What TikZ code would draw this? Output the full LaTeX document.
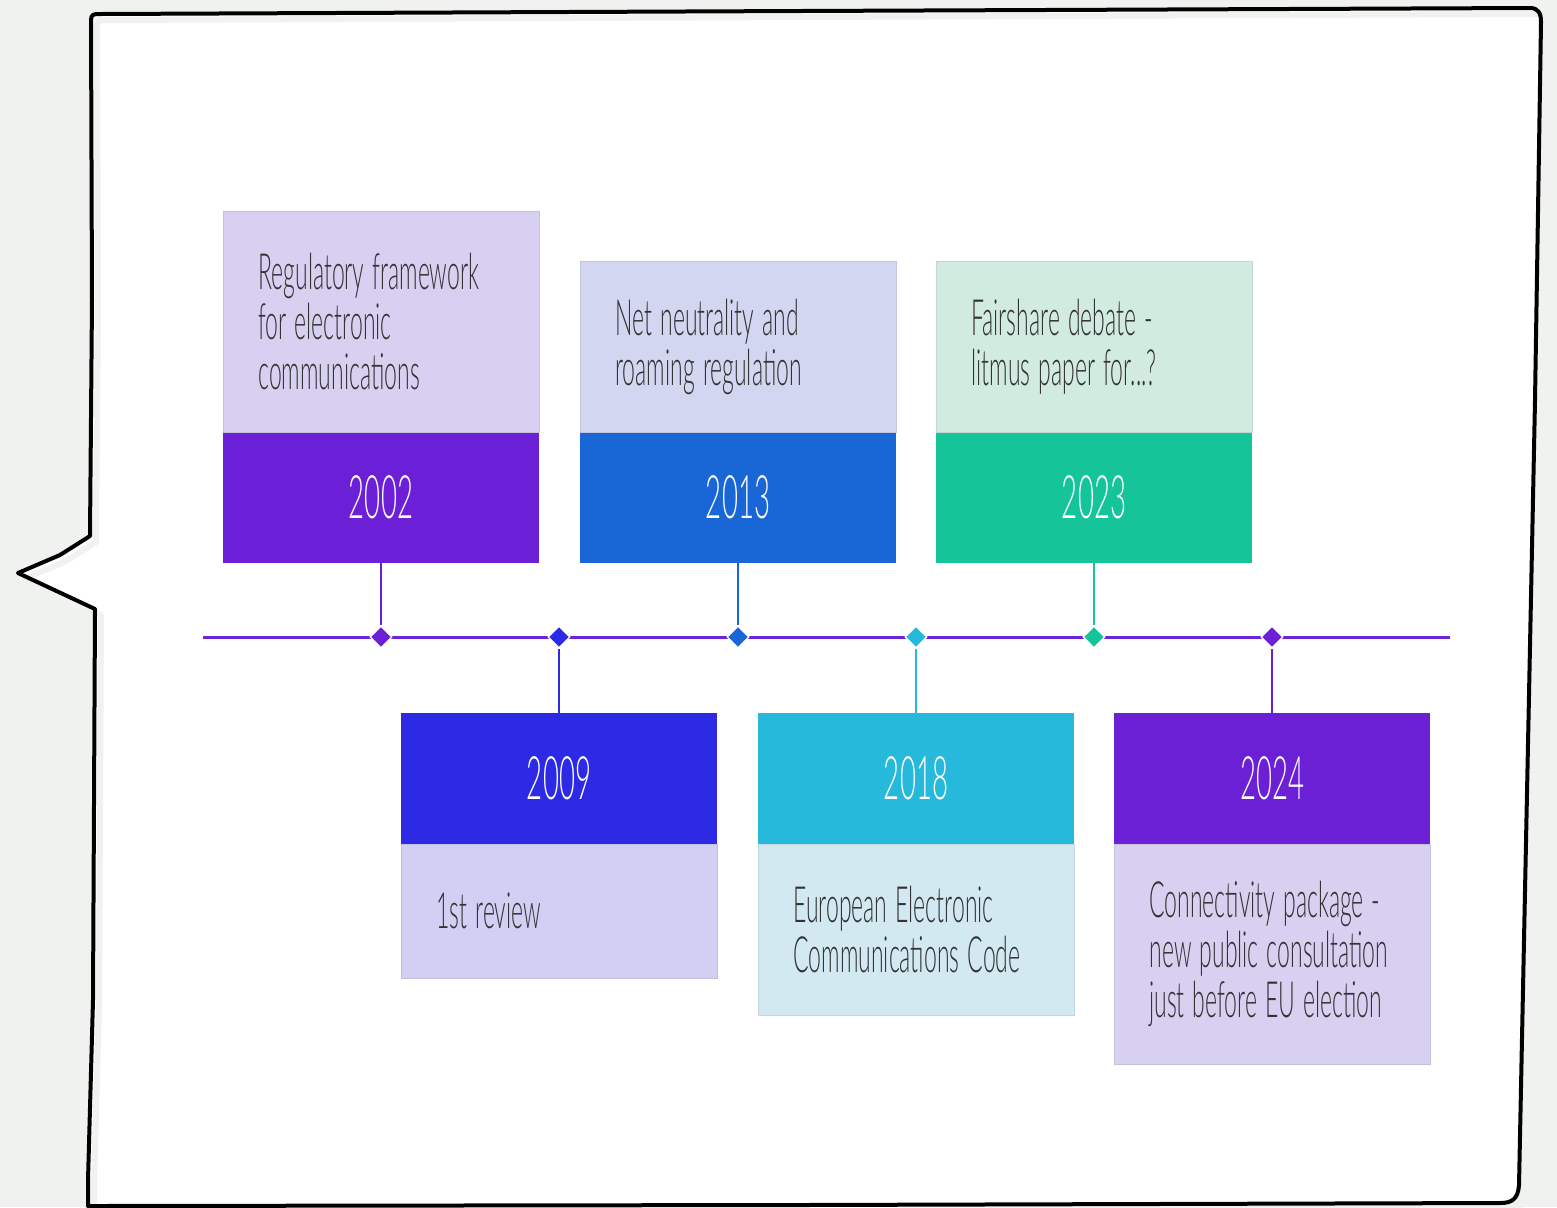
\documentclass[tikz,border=0pt]{standalone}
\usepackage{fontspec}
\setmainfont{Lato Light}[FakeStretch=0.46, WordSpace=1.3]
\newfontfamily\yearfont{Lato Light}[FakeStretch=0.46]
\usepackage{xcolor}
\usetikzlibrary{positioning, shapes.geometric}

\definecolor{paper}{HTML}{F0F2EF}
\definecolor{lineviolet}{HTML}{6D24D8}
\definecolor{c2002}{HTML}{6B1FD6}
\definecolor{c2009}{HTML}{2D2AE6}
\definecolor{c2013}{HTML}{1966D6}
\definecolor{c2018}{HTML}{27B9DB}
\definecolor{c2023}{HTML}{16C49A}
\definecolor{c2024}{HTML}{6C20D6}
\definecolor{l2002}{HTML}{D8D0F1}
\definecolor{l2009}{HTML}{D1D0F4}
\definecolor{l2013}{HTML}{D2D6F0}
\definecolor{l2018}{HTML}{D2E9F2}
\definecolor{l2023}{HTML}{D1EBE0}
\definecolor{l2024}{HTML}{D8D0F1}

\tikzset{
    yearbox/.style={rectangle, fill=#1, text=white, minimum width=158pt, minimum height=65.5pt, inner sep=0pt, outer sep=0pt, font=\yearfont\fontsize{30}{32}\selectfont},
    notebox/.style={rectangle, fill=#1, draw=#1!92!black, line width=0.4pt, minimum width=158pt, inner sep=0pt, outer sep=0pt},
    notetext/.style={anchor=west, inner sep=0pt, align=left, text=black!80, font=\fontsize{25}{25}\selectfont},
    pin/.style={diamond, aspect=1, fill=#1, draw=white, line width=0.6pt, minimum size=11pt, inner sep=0pt},
    stemline/.style={draw=#1, line width=0.8pt},
    timeline/.style={draw=lineviolet, line width=1.5pt},
    bubble/.style={draw=black, line width=2pt, line join=round, line cap=round},
    bubbleshade/.style={draw=paper, line width=3pt, line join=round}
}

\begin{document}
\begin{tikzpicture}[x=0.5pt, y=-0.5pt]
        \useasboundingbox (0,0) rectangle (1557,1207);
        \fill[paper] (0,0) rectangle (1557,1207);

        % Speech bubble
        \fill[white] (91,20) .. controls (91,14) and (94,14) .. (100,14) -- (800,11) -- (1530,8) .. controls (1538,8) and (1541,13) .. (1541,22) -- (1535,400) -- (1519,1185) .. controls (1518,1199) and (1512,1203) .. (1500,1203) -- (800,1205) -- (88,1206) -- (88,1180) -- (93,1000) -- (95,609) -- (18,573) -- (60,555) -- (90,536) -- (92,300) -- cycle;
        \draw[bubbleshade, shift={(3pt,-3pt)}] (91,20) .. controls (91,14) and (94,14) .. (100,14) -- (800,11) -- (1530,8) .. controls (1538,8) and (1541,13) .. (1541,22) -- (1535,400) -- (1519,1185) .. controls (1518,1199) and (1512,1203) .. (1500,1203) -- (800,1205) -- (88,1206) -- (88,1180) -- (93,1000) -- (95,609) -- (18,573) -- (60,555) -- (90,536) -- (92,300) -- cycle;
        \draw[bubble] (91,20) .. controls (91,14) and (94,14) .. (100,14) -- (800,11) -- (1530,8) .. controls (1538,8) and (1541,13) .. (1541,22) -- (1535,400) -- (1519,1185) .. controls (1518,1199) and (1512,1203) .. (1500,1203) -- (800,1205) -- (88,1206) -- (88,1180) -- (93,1000) -- (95,609) -- (18,573) -- (60,555) -- (90,536) -- (92,300) -- cycle;

        % Time axis
        \coordinate (Start) at (203,637);
        \coordinate (End) at (1450,637);
        \draw[timeline] (Start) -- (End);

        % Year boxes above the axis
        \node[yearbox=c2002] (Y2002) at (381,497.5) {2002};
        \node[yearbox=c2013] (Y2013) at (738,497.5) {2013};
        \node[yearbox=c2023] (Y2023) at (1094,497.5) {2023};

        % Year boxes below the axis
        \node[yearbox=c2009] (Y2009) at (559,778.5) {2009};
        \node[yearbox=c2018] (Y2018) at (916,778.5) {2018};
        \node[yearbox=c2024] (Y2024) at (1272,778.5) {2024};

        % Note boxes
        \node[notebox=l2002, minimum height=110.5pt, above=0pt of Y2002] (N2002) {};
        \node[notebox=l2013, minimum height=85.5pt, above=0pt of Y2013] (N2013) {};
        \node[notebox=l2023, minimum height=85.5pt, above=0pt of Y2023] (N2023) {};
        \node[notebox=l2009, minimum height=67pt, below=0pt of Y2009] (N2009) {};
        \node[notebox=l2018, minimum height=85.5pt, below=0pt of Y2018] (N2018) {};
        \node[notebox=l2024, minimum height=110pt, below=0pt of Y2024] (N2024) {};

        % Note texts
        \node[notetext, right=17.5pt of N2002.west] (T2002) {Regulatory framework\\for electronic\\communications};
        \node[notetext, right=17.5pt of N2013.west] (T2013) {Net neutrality and\\roaming regulation};
        \node[notetext, right=17.5pt of N2023.west] (T2023) {Fairshare debate -\\litmus paper for...?};
        \node[notetext, right=17.5pt of N2009.west] (T2009) {1st review};
        \node[notetext, right=17.5pt of N2018.west] (T2018) {European Electronic\\Communications Code};
        \node[notetext, right=17.5pt of N2024.west] (T2024) {Connectivity package -\\new public consultation\\just before EU election};

        % Markers on the axis
        \node[pin=c2002] (P2002) at (381,637) {};
        \node[pin=c2009] (P2009) at (559,637) {};
        \node[pin=c2013] (P2013) at (738,637) {};
        \node[pin=c2018] (P2018) at (916,637) {};
        \node[pin=c2023] (P2023) at (1094,637) {};
        \node[pin=c2024] (P2024) at (1272,637) {};

        % Stems
        \draw[stemline=c2002] (Y2002) -- (P2002);
        \draw[stemline=c2013] (Y2013) -- (P2013);
        \draw[stemline=c2023] (Y2023) -- (P2023);
        \draw[stemline=c2009] (P2009) -- (Y2009);
        \draw[stemline=c2018] (P2018) -- (Y2018);
        \draw[stemline=c2024] (P2024) -- (Y2024);

    \end{tikzpicture}
\end{document}
